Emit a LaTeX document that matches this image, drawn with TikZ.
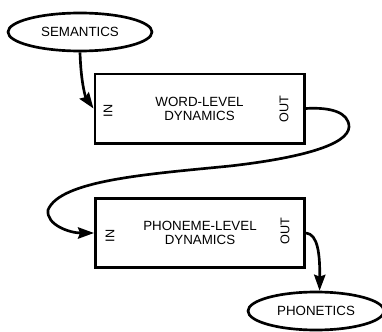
\documentclass[tikz,border=0pt]{standalone}
\usepackage{fontspec}
\setmainfont{Liberation Sans}
\usetikzlibrary{shapes.geometric,arrows.meta}

\tikzset{every picture/.style={line width=2pt}}
\tikzset{
  blob/.style={draw, ellipse, inner sep=0pt, font=\fontsize{10pt}{10.5pt}\selectfont},
  stage/.style={draw, rectangle, minimum width=157pt, minimum height=52pt, inner sep=0pt,
    align=center, font=\fontsize{10pt}{10.5pt}\selectfont},
  port/.style={rotate=90, inner sep=0pt, font=\fontsize{9.5pt}{10pt}\selectfont},
  flow/.style={-{Stealth[length=12pt,width=8.5pt,inset=1.5pt]}, line width=2pt}
}

\begin{document}
\begin{tikzpicture}[x=0.75pt,y=0.75pt,yscale=-1,xscale=1]
\useasboundingbox (0,0) rectangle (382,332); %set diagram size 382 x 332

%Shape: Ellipse [id:sem]
\node [blob, minimum width=108pt, minimum height=28.5pt] (sem) at (80,32) {SEMANTICS};
%Shape: Rectangle [id:word]
\node [stage] (word) at (199.5,108.5) {WORD-LEVEL\\DYNAMICS};
%Shape: Rectangle [id:phon]
\node [stage] (phon) at (200,233) {PHONEME-LEVEL\\DYNAMICS};
%Shape: Ellipse [id:phonetics]
\node [blob, minimum width=102pt, minimum height=28.5pt] (phonetics) at (316,311) {PHONETICS};

% Text Node
\node [port] (wordin) at (108,111) {IN};
% Text Node
\node [port] (wordout) at (284,109) {OUT};
% Text Node
\node [port] (phonin) at (110,236) {IN};
% Text Node
\node [port] (phonout) at (285,231) {OUT};

%Curve Lines [id:semtoword]
\draw [flow] (sem.south) .. controls (81,85) and (86,98) .. (word.west);
%Curve Lines [id:wordtophon]
\draw [flow] (word.east) .. controls (330,107) and (349,112) .. (349,127)
  .. controls (348,145) and (300,158) .. (230,166)
  .. controls (150,174) and (60,180) .. (48,210)
  .. controls (46,225) and (70,233) .. (phon.west);
%Curve Lines [id:phontophonetics]
\draw [flow] (phon.east) .. controls (318,234) and (320,255) .. (phonetics.80);

\end{tikzpicture}
\end{document}
